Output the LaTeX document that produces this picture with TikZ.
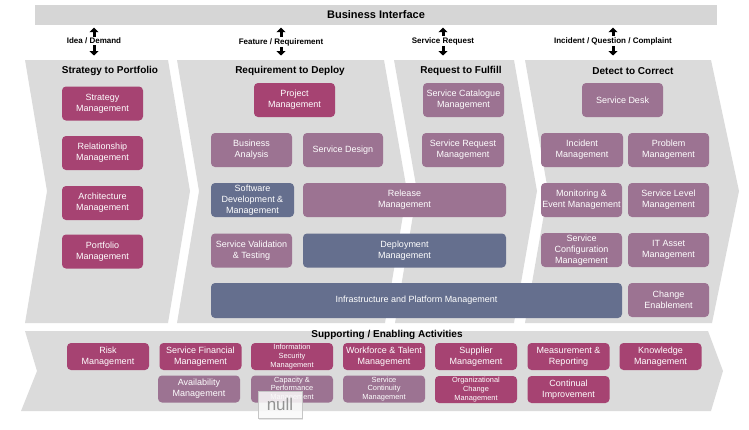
\documentclass[tikz,border=0pt]{standalone}
\usepackage{fontspec}
\setmainfont{Liberation Sans}
\usetikzlibrary{arrows.meta,shadows}
\definecolor{strongc}{RGB}{166,67,114}
\definecolor{mauvec}{RGB}{156,115,146}
\definecolor{bluec}{RGB}{101,111,142}
\definecolor{bandc}{RGB}{219,219,219}
\definecolor{barc}{RGB}{214,214,214}
\begin{document}
\begin{tikzpicture}[x=1pt,y=-1pt,
  box/.style={rounded corners=4pt, text=white, align=center, inner sep=1pt,
    font=\fontsize{9}{10.8}\selectfont},
  strong/.style={box, fill=strongc},
  mauve/.style={box, fill=mauvec},
  bluebox/.style={box, fill=bluec},
  big/.style={minimum width=81pt, minimum height=34pt},
  sm/.style={minimum width=82pt, minimum height=27pt},
  tiny/.style={font=\fontsize{7.4}{8.8}\selectfont},
  head/.style={font=\bfseries\fontsize{10}{12}\selectfont, inner sep=1pt},
  lab/.style={font=\bfseries\fontsize{8}{10}\selectfont, inner sep=1pt},
  iarrow/.style={-{Triangle[width=9pt,length=4.5pt]}, line width=3pt, black},
  band/.style={fill=bandc, draw=none}
]
\useasboundingbox (0,0) rectangle (749,429);

% business interface bar
\node[fill=barc, minimum width=682pt, minimum height=20pt, inner sep=0pt,
  font=\bfseries\fontsize{11}{13}\selectfont] (bar) at (376,15) {Business Interface};
\coordinate (chevtop) at (0,60);

% chevrons
\path[band] (25,60) -- (168,60) -- (190,191) -- (168,323) -- (25,323) -- (47,191) -- cycle;
\path[band] (177,60) -- (384,60) -- (407,191) -- (385,323) -- (177,323) -- (199,191) -- cycle;
\path[band] (394,60) -- (514,60) -- (537,191) -- (514,323) -- (395,323) -- (417,191) -- cycle;
\path[band] (525,60) -- (711,60) -- (739,191) -- (712,323) -- (525,323) -- (548,191) -- cycle;
% supporting band
\path[band] (25,331) -- (708,331) -- (723,371) -- (711,411) -- (21,411) -- (37,371) -- cycle;

% interface labels and arrows
\node[lab] (l1) at (94,41) {Idea / Demand};
\node[lab] (l2) at (281,42) {Feature / Requirement};
\node[lab] (l3) at (443,41) {Service Request};
\node[lab] (l4) at (613,41) {Incident / Question / Complaint};
\foreach \n in {l1,l2,l3,l4}{
  \draw[iarrow, shorten >=2.5pt] (\n.north) -- (\n.north |- bar.south);
  \draw[iarrow, shorten >=4.5pt] (\n.south) -- (\n.south |- chevtop);
}

% column headings
\node[head] (h1) at (110,71) {Strategy to Portfolio};
\node[head] (h2) at (290,71) {Requirement to Deploy};
\node[head] (h3) at (461,71) {Request to Fulfill};
\node[head] (h4) at (633,71) {Detect to Correct};

% column 1
\node[strong, big] (strat) at (102.5,103.5) {Strategy\\Management};
\node[strong, big] (relm) at (102.5,153) {Relationship\\Management};
\node[strong, big] (arch) at (102.5,203) {Architecture\\Management};
\node[strong, big] (port) at (102.5,251.5) {Portfolio\\Management};

% column 2
\node[strong, big] (proj) at (294.5,100) {Project\\Management};
\node[mauve, big] (ba) at (251.5,150) {Business\\Analysis};
\node[mauve, big, minimum width=80pt] (sd) at (343,150) {Service Design};
\node[bluebox, big, minimum width=83pt] (swd) at (252.5,200) {Software\\Development \&\\Management};
\node[mauve, big, minimum width=203pt] (rel) at (404.5,200) {Release\\Management};
\node[mauve, big] (svt) at (251.5,250.5) {Service Validation\\\& Testing};
\node[bluebox, big, minimum width=203pt] (dep) at (404.5,250.5) {Deployment\\Management};
\node[bluebox, big, minimum width=411pt, minimum height=35pt] (infra) at (416.5,300.5) {Infrastructure and Platform Management};

% column 3
\node[mauve, big] (scm) at (463.5,100) {Service Catalogue\\Management};
\node[mauve, big, minimum width=82pt] (srm) at (463,150) {Service Request\\Management};

% column 4
\node[mauve, big] (desk) at (622.5,100) {Service Desk};
\node[mauve, big, minimum width=82pt] (inc) at (582,150) {Incident\\Management};
\node[mauve, big] (prob) at (668.5,150) {Problem\\Management};
\node[mauve, big] (mon) at (581.5,200) {Monitoring \&\\Event Management};
\node[mauve, big] (slm) at (668.5,200) {Service Level\\Management};
\node[mauve, big] (scfg) at (581.5,250) {Service\\Configuration\\Management};
\node[mauve, big] (itam) at (668.5,250) {IT Asset\\Management};
\node[mauve, big] (chg) at (668.5,300) {Change\\Enablement};

% supporting activities
\node[head] (hs) at (387,335) {Supporting / Enabling Activities};
\node[strong, sm] (risk) at (108,356.5) {Risk\\Management};
\node[strong, sm] (sfm) at (200.5,356.5) {Service Financial\\Management};
\node[strong, sm, tiny] (ism) at (292,356.5) {Information\\Security\\Management};
\node[strong, sm] (wtm) at (384,356.5) {Workforce \& Talent\\Management};
\node[strong, sm] (sup) at (476,356.5) {Supplier\\Management};
\node[strong, sm] (mr) at (568.5,356.5) {Measurement \&\\Reporting};
\node[strong, sm] (km) at (660.5,356.5) {Knowledge\\Management};
\node[mauve, sm] (avail) at (199,389) {Availability\\Management};
\node[mauve, sm, tiny] (cap) at (292,389) {Capacity \&\\Performance\\Management};
\node[mauve, sm, tiny] (scon) at (384,389) {Service\\Continuity\\Management};
\node[strong, sm, tiny] (ocm) at (476,389.5) {Organizational\\Change\\Management};
\node[strong, sm] (ci) at (568.5,389.5) {Continual\\Improvement};

% null overlay
\node[fill=white, fill opacity=0.82, text opacity=1, draw=gray!45, text=gray!85,
  minimum width=44pt, minimum height=27pt, inner sep=0pt,
  drop shadow={opacity=0.2, shadow xshift=1pt, shadow yshift=-1.5pt},
  font=\fontsize{17}{17}\selectfont] (nullbox) at (280,404.5) {null};
\end{tikzpicture}
\end{document}
